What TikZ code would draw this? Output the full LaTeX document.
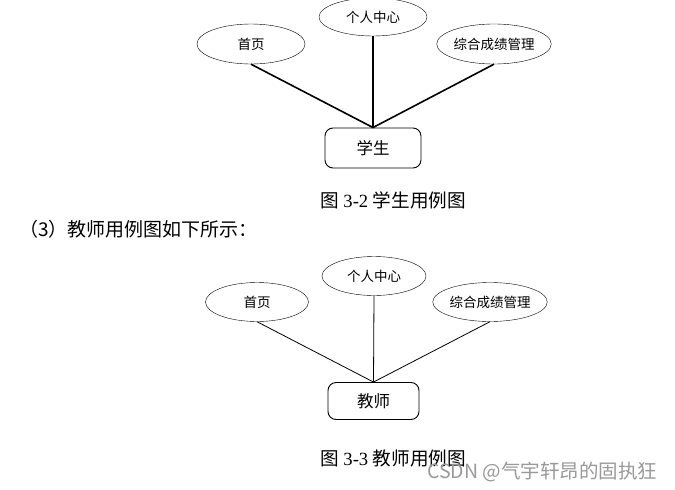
\documentclass[tikz,border=0pt]{standalone}
\usepackage{fontspec}
\setmainfont{Liberation Serif}
\newfontfamily\cjk{Noto Sans CJK SC}
\usetikzlibrary{shapes.geometric}
\begin{document}
\begin{tikzpicture}[x=1pt,y=-1pt,
  uc/.style={ellipse,draw,inner sep=0pt,font=\cjk\fontsize{13.5}{15}\selectfont},
  actor/.style={rectangle,draw,rounded corners=8pt,inner sep=0pt,font=\cjk\fontsize{16.5}{18}\selectfont},
  thickl/.style={line width=1.6pt},
  thinl/.style={line width=0.8pt},
  captext/.style={inner sep=0pt,anchor=west,font=\fontsize{18.6}{21}\selectfont}]
\useasboundingbox[fill=white] (0,0) rectangle (675,490);
% top diagram
\node[uc,minimum width=108pt,minimum height=40pt] (a1) at (251,44) {首页};
\node[uc,minimum width=108pt,minimum height=38pt] (a2) at (373,17) {个人中心};
\node[uc,minimum width=107pt,minimum height=40pt] (a3) at (494,44) {综合成绩管理};
\node[actor,minimum width=96pt,minimum height=40pt,line width=0.9pt] (s) at (373,148) {学生};
\draw[thickl] (a1.south) -- (s.north);
\draw[thickl] (a2.south) -- (s.north);
\draw[thickl] (a3.south) -- (s.north);
\node[captext] (c1) at (320,200) {{\cjk 图} 3-2 {\cjk 学生用例图}};
\node[inner sep=0pt,anchor=west,font=\cjk\fontsize{19}{21}\selectfont] (p) at (19,229) {（3）教师用例图如下所示：};
% bottom diagram
\node[uc,minimum width=103pt,minimum height=39pt] (b1) at (257,302) {首页};
\node[uc,minimum width=104pt,minimum height=39pt] (b2) at (374,276) {个人中心};
\node[uc,minimum width=103pt,minimum height=39pt] (b3) at (490,302) {综合成绩管理};
\node[actor,minimum width=91pt,minimum height=37pt,line width=0.9pt] (t) at (373.5,401) {教师};
\draw[thinl] (b1.south) -- (t.north);
\draw[thinl] (b2.south) -- (t.north);
\draw[thinl] (b3.south) -- (t.north);
\node[captext] (c2) at (320,458) {{\cjk 图} 3-3 {\cjk 教师用例图}};
\node[inner sep=0pt,anchor=west,text=black!40,font=\cjk\fontsize{19.5}{21}\selectfont] (w) at (427,472) {CSDN @气宇轩昂的固执狂};
\end{tikzpicture}
\end{document}
